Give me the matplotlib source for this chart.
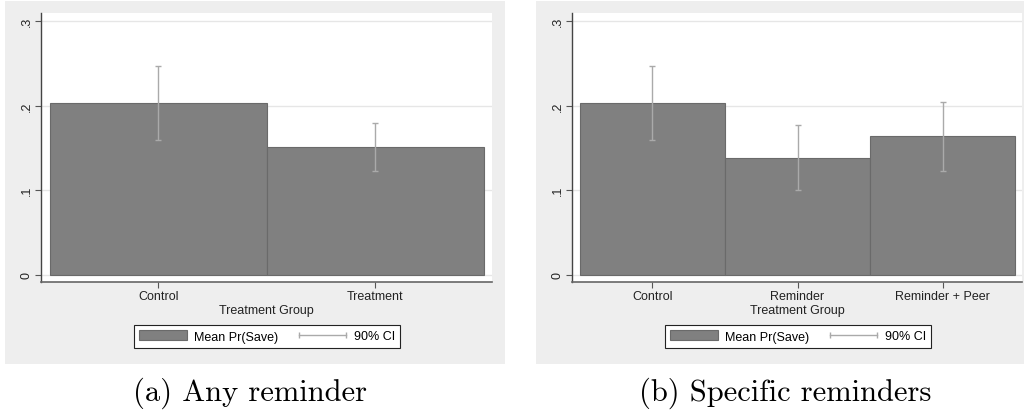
import numpy as np
import matplotlib
matplotlib.use("Agg")
import matplotlib.pyplot as plt
from matplotlib.patches import Patch, Rectangle
from matplotlib.lines import Line2D
from matplotlib.legend_handler import HandlerLine2D

# panel (a): any reminder vs control
groups_a = ["Control", "Treatment"]
mean_a = [0.203, 0.151]
ci_lo_a = [0.159, 0.123]
ci_hi_a = [0.247, 0.179]

# panel (b): reminder types
groups_b = ["Control", "Reminder", "Reminder + Peer"]
mean_b = [0.203, 0.138, 0.164]
ci_lo_b = [0.159, 0.100, 0.123]
ci_hi_b = [0.247, 0.177, 0.204]

yticks = [0, 0.1, 0.2, 0.3]
ytick_labels = ["0", ".1", ".2", ".3"]

W, H = 1024, 414
BG = "#EEEEEE"
BAR = "#808080"
BAR_EDGE = "#6A6A6A"
CI_COL = "#AAAAAA"
SANS = ["Liberation Sans", "DejaVu Sans"]

plt.rcParams["font.family"] = SANS


def px_box(x0, y0, x1, y1):
    return [x0 / W, 1 - y1 / H, (x1 - x0) / W, (y1 - y0) / H]


def draw_panel(fig, rect, groups, means, lo, hi, xlim, legend_x):
    ax = fig.add_axes(px_box(*rect))
    x = np.arange(len(groups))
    means = np.array(means)
    ax.bar(x, means, width=1.0, color=BAR, edgecolor=BAR_EDGE, linewidth=0.8, zorder=2)
    yerr = [means - np.array(lo), np.array(hi) - means]
    ax.errorbar(x, means, yerr=yerr, fmt="none", ecolor=CI_COL, elinewidth=1.0,
                capsize=2, capthick=1.0, zorder=3)

    ax.set_xlim(*xlim)
    ax.set_ylim(-0.0083, 0.3094)
    ax.set_yticks(yticks)
    ax.set_yticklabels(ytick_labels, rotation=90, va="center", fontsize=9, color="#222222")
    ax.set_xticks(x)
    ax.set_xticklabels(groups, fontsize=9, color="#222222")
    ax.set_xlabel("Treatment Group", fontsize=9, color="#222222", labelpad=1)

    ax.yaxis.grid(True, color="#E6E6E6", linewidth=1.0)
    ax.set_axisbelow(True)
    for side in ["top", "right"]:
        ax.spines[side].set_visible(False)
    ax.spines["left"].set_color("#444444")
    ax.spines["bottom"].set_color("#666666")
    ax.spines["left"].set_linewidth(1.0)
    ax.spines["bottom"].set_linewidth(1.2)
    ax.tick_params(axis="both", length=4, width=0.8, color="#555555", pad=2)

    bar_handle = Patch(facecolor=BAR, edgecolor=BAR_EDGE, linewidth=0.8)
    ci_handle = Line2D([], [], color=CI_COL, lw=1.0, marker="|", markersize=4,
                       markeredgewidth=1.0)
    leg = ax.legend([bar_handle, ci_handle], ["Mean Pr(Save)", "90% CI"],
                    loc="upper center", bbox_to_anchor=(legend_x / W, 1 - 326 / H),
                    bbox_transform=fig.transFigure, ncol=2, fontsize=9,
                    numpoints=2, handlelength=3.8, handleheight=0.9,
                    handletextpad=0.6, columnspacing=1.65, borderpad=0.4,
                    borderaxespad=0, fancybox=False, framealpha=1,
                    handler_map={ci_handle: HandlerLine2D(marker_pad=0)})
    leg.get_frame().set_edgecolor("#222222")
    leg.get_frame().set_linewidth(0.8)
    return ax


fig = plt.figure(figsize=(W / 100, H / 100), dpi=100)
fig.patch.set_facecolor("white")

# grey graph regions behind each plot
for x0, x1 in [(5, 505), (536, 1024)]:
    fig.patches.append(Rectangle((x0 / W, 1 - 365 / H), (x1 - x0) / W, (365 - 2) / H,
                                 transform=fig.transFigure, facecolor=BG,
                                 edgecolor="none", zorder=-10))

draw_panel(fig, (41, 14, 492, 283), groups_a, mean_a, ci_lo_a, ci_hi_a,
           (-0.541, 1.537), 267)
draw_panel(fig, (572, 14, 1022, 283), groups_b, mean_b, ci_lo_b, ci_hi_b,
           (-0.555, 2.548), 798)

fig.text(250 / W, 1 - 393 / H, "(a) Any reminder", family="cmr10", fontsize=22,
         ha="center", va="center")
fig.text(785 / W, 1 - 393 / H, "(b) Specific reminders", family="cmr10", fontsize=22,
         ha="center", va="center")

fig.savefig("out.png", dpi=100)
